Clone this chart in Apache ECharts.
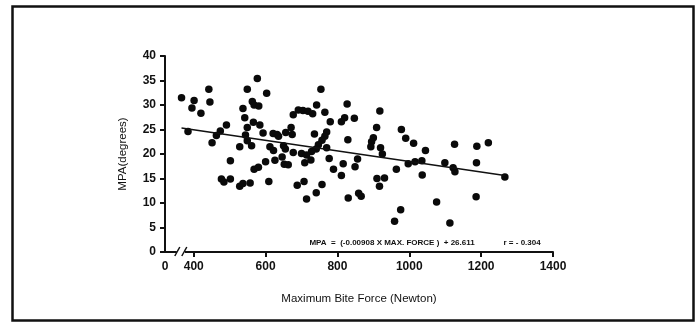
<!DOCTYPE html>
<html>
<head>
<meta charset="utf-8">
<script src="https://cdn.jsdelivr.net/npm/echarts@6/dist/echarts.min.js"></script>
<style>
html, body { margin: 0; padding: 0; background: #fff; }
#chart { width: 698px; height: 324px; }
</style>
</head>
<body>
<div id="chart"></div>
<script>
// maximum bite force (Newton) and MPA (degrees)
var biteForce = [
    366, 401, 395, 442, 445, 420, 384, 474, 491, 463,
    451, 502, 528, 477, 484, 502, 528, 537, 557, 568,
    580, 600, 609, 577, 549, 603, 537, 563, 568, 581,
    542, 566, 584, 549, 544, 593, 549, 561, 612, 621,
    632, 636, 656, 674, 671, 677, 691, 704, 718, 731,
    742, 754, 765, 780, 811, 820, 847, 827, 736, 770,
    765, 757, 747, 741, 728, 770, 829, 622, 650, 655,
    677, 700, 714, 709, 726, 777, 816, 849, 789, 811,
    626, 646, 652, 663, 688, 707, 714, 741, 757, 830,
    859, 866, 856, 918, 909, 900, 895, 893, 920, 925,
    978, 990, 1012, 1045, 1126, 1188, 1220, 964, 997, 1016,
    1035, 1036, 1099, 1122, 1127, 1187, 1266, 910, 931, 917,
    1076, 976, 959, 1113, 1186
];
var mpaDegrees = [
    31.5, 30.9, 29.4, 33.2, 30.6, 28.3, 24.6, 24.7, 25.9, 23.8,
    22.3, 18.6, 21.5, 14.9, 14.3, 14.9, 13.4, 14.0, 14.1, 16.9,
    17.3, 18.4, 14.4, 35.4, 33.2, 32.4, 29.3, 30.7, 30.0, 29.8,
    27.4, 26.5, 25.9, 25.4, 23.9, 24.3, 22.7, 21.7, 21.5, 24.2,
    24.0, 23.6, 24.4, 24.0, 25.4, 28.0, 29.0, 28.9, 28.7, 28.2,
    30.0, 33.2, 28.5, 26.6, 26.6, 27.4, 27.3, 30.2, 24.1, 24.5,
    23.6, 22.8, 21.9, 21.0, 20.5, 21.3, 22.9, 20.7, 21.7, 21.0,
    20.3, 20.1, 19.8, 18.2, 18.8, 19.1, 18.0, 17.4, 16.9, 15.6,
    18.7, 19.4, 17.9, 17.8, 13.6, 14.4, 10.8, 12.1, 13.8, 11.0,
    12.0, 11.4, 19.0, 28.8, 25.4, 23.3, 22.5, 21.5, 21.3, 20.0,
    25.0, 23.2, 22.2, 20.7, 22.0, 21.6, 22.3, 16.9, 18.0, 18.4,
    18.6, 15.7, 18.2, 17.2, 16.4, 18.2, 15.3, 15.0, 15.1, 13.4,
    10.2, 8.6, 6.3, 5.9, 11.3
];

// regression line as drawn on the figure
var fitForce = [366, 1266];
var fitMpa = [25.3, 15.6];

var xTicks = [400, 600, 800, 1000, 1200, 1400];
var xStart = 320; // broken axis: this end is labelled 0
var equationText = 'MPA  =  (-0.00908 X MAX. FORCE )  + 26.611';
var rText = 'r = - 0.304';

var points = [];
for (var i = 0; i < biteForce.length; i++) {
    points.push([biteForce[i], mpaDegrees[i]]);
}
var fitLine = [];
for (var j = 0; j < fitForce.length; j++) {
    fitLine.push([fitForce[j], fitMpa[j]]);
}

var font = 'Liberation Sans';
var myChart = echarts.init(document.getElementById('chart'), null, {renderer: 'canvas'});

var option = {
    animation: false,
    backgroundColor: '#fff',
    grid: {left: 165, right: 145, top: 56, bottom: 72},
    xAxis: {
        type: 'value',
        min: xStart,
        max: 1400,
        name: 'Maximum Bite Force (Newton)',
        nameLocation: 'middle',
        nameGap: 41,
        nameTextStyle: {color: '#111', fontFamily: font, fontSize: 11.5},
        splitLine: {show: false},
        axisLine: {lineStyle: {color: '#111', width: 2}},
        axisTick: {
            customValues: xTicks,
            length: 5,
            lineStyle: {color: '#111', width: 2}
        },
        axisLabel: {
            customValues: [xStart].concat(xTicks),
            margin: 9,
            color: '#111',
            fontFamily: font,
            fontSize: 12,
            fontWeight: 'bold',
            formatter: function(v) {
                return v === xStart ? '0' : String(v);
            }
        }
    },
    yAxis: {
        type: 'value',
        min: 0,
        max: 40,
        interval: 5,
        name: 'MPA(degrees)',
        nameLocation: 'middle',
        nameGap: 36,
        nameTextStyle: {color: '#111', fontFamily: font, fontSize: 11.5},
        splitLine: {show: false},
        axisLine: {show: true, lineStyle: {color: '#111', width: 2}},
        axisTick: {show: true, length: 5, lineStyle: {color: '#111', width: 2}},
        axisLabel: {
            margin: 9,
            color: '#111',
            fontFamily: font,
            fontSize: 12,
            fontWeight: 'bold'
        }
    },
    series: [
        {
            name: 'MPA',
            type: 'scatter',
            data: points,
            symbol: 'circle',
            symbolSize: 7.5,
            itemStyle: {color: '#0a0a0a', opacity: 1}
        },
        {
            name: 'fit',
            type: 'line',
            data: fitLine,
            symbol: 'none',
            lineStyle: {color: '#111', width: 1.6}
        }
    ]
};
myChart.setOption(option);

// frame, axis break marks and equation text
var brk = myChart.convertToPixel({gridIndex: 0}, [364, 0]);
var eq = myChart.convertToPixel({gridIndex: 0}, [952, 1.9]);
var rr = myChart.convertToPixel({gridIndex: 0}, [1314, 1.9]);
myChart.setOption({
    graphic: [
        {
            type: 'rect',
            shape: {x: 12.5, y: 6.5, width: 681, height: 314},
            style: {fill: null, stroke: '#111', lineWidth: 2.5},
            silent: true
        },
        {
            type: 'rect',
            shape: {x: brk[0] - 4, y: brk[1] - 2, width: 8, height: 4},
            style: {fill: '#fff'},
            z: 100
        },
        {
            type: 'line',
            shape: {x1: brk[0] - 6, y1: brk[1] + 4, x2: brk[0] - 1, y2: brk[1] - 5},
            style: {stroke: '#111', lineWidth: 1.5},
            z: 101
        },
        {
            type: 'line',
            shape: {x1: brk[0] + 1, y1: brk[1] + 4, x2: brk[0] + 6, y2: brk[1] - 5},
            style: {stroke: '#111', lineWidth: 1.5},
            z: 101
        },
        {
            type: 'text',
            x: eq[0],
            y: eq[1],
            style: {
                text: equationText,
                fill: '#111',
                font: 'bold 8px "Liberation Sans"',
                textAlign: 'center',
                textVerticalAlign: 'middle'
            }
        },
        {
            type: 'text',
            x: rr[0],
            y: rr[1],
            style: {
                text: rText,
                fill: '#111',
                font: 'bold 8px "Liberation Sans"',
                textAlign: 'center',
                textVerticalAlign: 'middle'
            }
        }
    ]
});
</script>
</body>
</html>
